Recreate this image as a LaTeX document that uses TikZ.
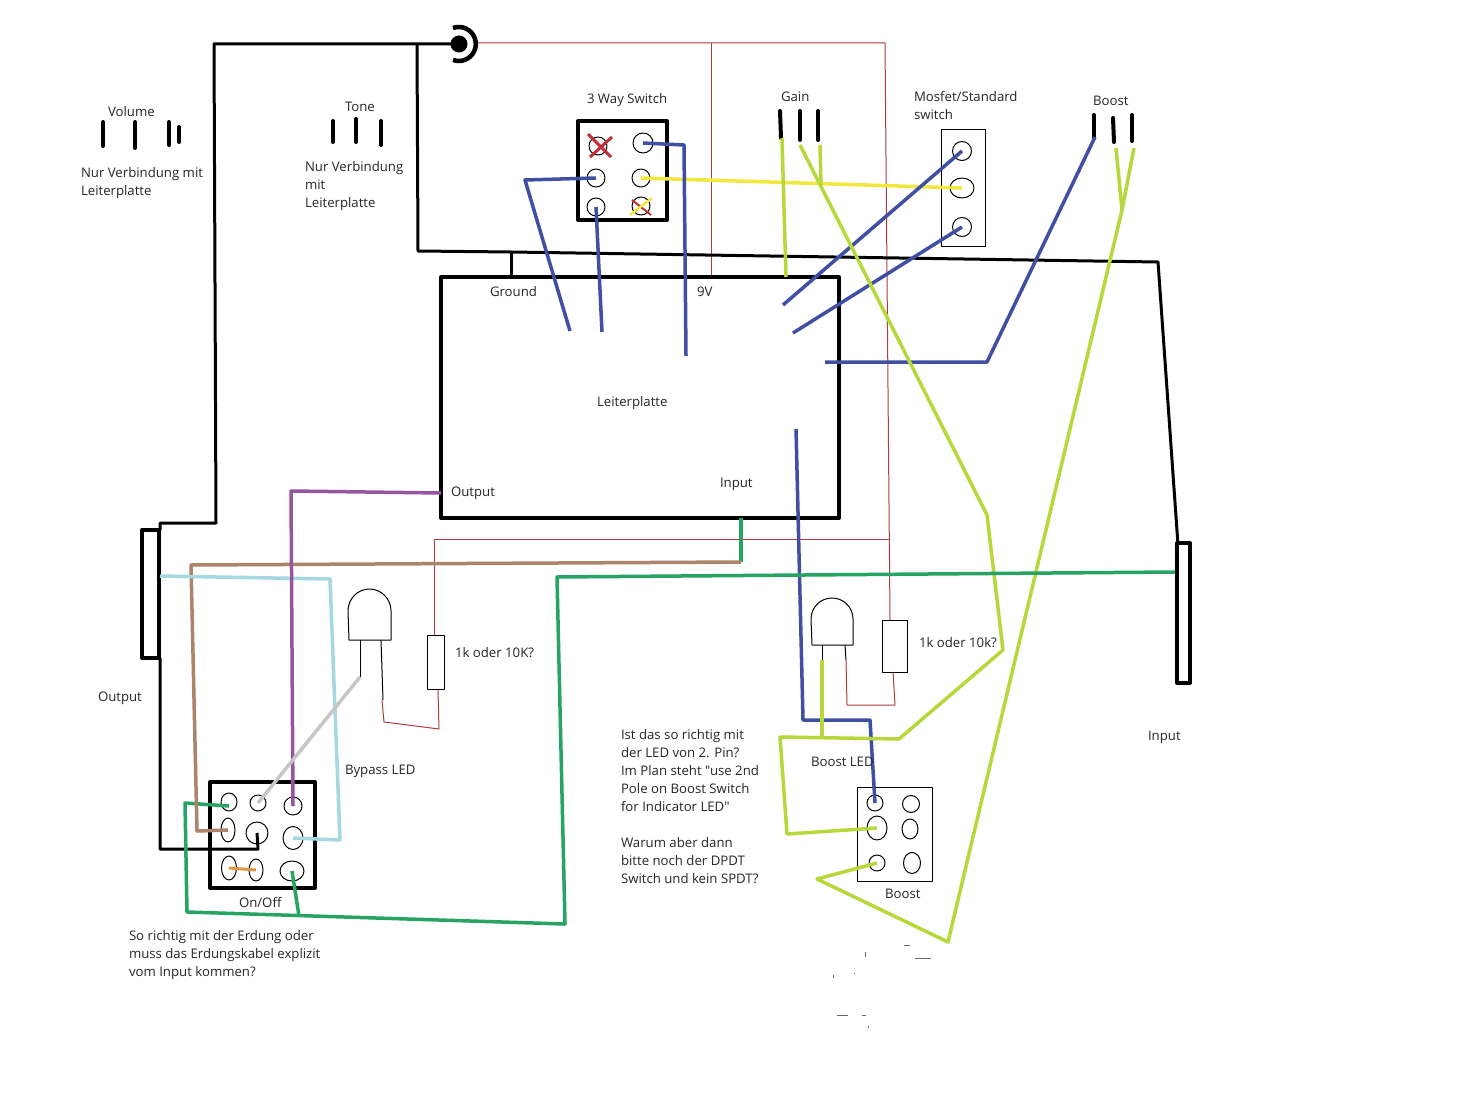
\documentclass[tikz,border=0pt]{standalone}
\usepackage{fontspec}
\newfontfamily\lblfont{Open Sans}
\usetikzlibrary{shapes.geometric}
\definecolor{wred}{HTML}{B03A40}
\definecolor{wblue}{HTML}{3F4FA3}
\definecolor{wlime}{HTML}{B7D83A}
\definecolor{wyellow}{HTML}{F2E83C}
\definecolor{wgreen}{HTML}{27A463}
\definecolor{wbrown}{HTML}{AD846A}
\definecolor{wsky}{HTML}{A6D8E2}
\definecolor{wpurple}{HTML}{95569E}
\definecolor{wgray}{HTML}{C6C6C6}
\definecolor{worange}{HTML}{DE9544}
\definecolor{wcross}{HTML}{BE2F36}
\begin{document}
\begin{tikzpicture}[x=1pt,y=-1pt,line join=round,
			lbl/.style={inner sep=0pt,outer sep=0pt,anchor=north west,align=left,
				font=\lblfont\fontsize{13.2}{18}\selectfont,text=black!85},
			pin/.style={ellipse,draw,line width=1pt,inner sep=0pt,minimum width=#1,minimum height=#1},
			pin/.default=18pt,
			blk/.style={line width=3pt,black},
			leg/.style={line width=4pt,black,line cap=round},
			box/.style={line width=4pt,black},
			thinbox/.style={line width=1pt,black},
			red wire/.style={line width=1pt,wred},
			blue wire/.style={line width=3.5pt,wblue},
			lime wire/.style={line width=3.5pt,wlime},
			green wire/.style={line width=3.5pt,wgreen},]
\useasboundingbox (0,0) rectangle (1469,1102);
\fill[white] (0,0) rectangle (1469,1102);
% thin red supply
\draw[red wire] (477,43) -- (885,43) -- (890,620);
\draw[red wire] (711.5,43) -- (711.5,277);
\draw[red wire] (890,539) -- (434.5,539) -- (434.5,635);
\draw[red wire] (438,689) -- (439,729) -- (384,722) -- (382,700);
\draw[red wire] (846,660) -- (847,705) -- (895,705) -- (893,672);
% parts
\draw[box] (441,277) rectangle (839,518);
\draw[box] (578,121) rectangle (667,220);
\draw[box] (210,782) rectangle (315,888);
\draw[box] (142,530) rectangle (159,658);
\draw[box] (1177,543) rectangle (1190,683);
\draw[thinbox] (941,130) rectangle (985,246);
\draw[thinbox] (857,787) rectangle (932,881);
\draw[thinbox] (427,635) rectangle (444,689);
\draw[thinbox] (882,620) rectangle (907,672);
% leds
\draw[thinbox] (349,640) -- (348,611) arc (180:360:21.5 and 22) -- (391,640) -- cycle;
\draw[thinbox] (360,640) -- (360,677);
\draw[thinbox] (381,640) -- (383,700);
\draw[thinbox] (812,645) -- (811,619) arc (180:360:21 and 21) -- (853,645) -- cycle;
\draw[thinbox] (822,645) -- (822,662);
\draw[thinbox] (845,645) -- (846,660);
% pots
\draw[leg] (103,122) -- (103,146);
\draw[leg] (135,122) -- (135,148);
\draw[leg] (169,122) -- (169,145);
\draw[leg] (179,127) -- (179,142);
\draw[leg] (333,121) -- (333,142);
\draw[leg] (356,119) -- (356,142);
\draw[leg] (381,121) -- (381,145);
\draw[leg] (780,111) -- (781,138);
\draw[leg] (800,111) -- (800,140);
\draw[leg] (818,111) -- (818,140);
\draw[leg] (1094,115) -- (1094,138);
\draw[leg] (1113,118) -- (1114,142);
\draw[leg] (1132,115) -- (1132,141);
% pins
\node[pin=18pt] (wayA) at (598,146) {};
\node[pin=20pt] (wayB) at (643,143) {};
\node[pin=18pt] (wayC) at (596,178) {};
\node[pin=18pt] (wayD) at (641,178) {};
\node[pin=18pt] (wayE) at (596,207) {};
\node[pin=18pt] (wayF) at (641,206) {};
\node[pin=19pt] (mosA) at (962,151) {};
\node[pin=24pt,minimum height=20pt] (mosB) at (962,188) {};
\node[pin=19pt] (mosC) at (962,227) {};
\node[pin=16pt] (booA) at (875,803) {};
\node[pin=17pt] (booB) at (911,804) {};
\node[pin=20pt,minimum height=24pt] (booC) at (877,828) {};
\node[pin=16pt,minimum height=20pt] (booD) at (910,829) {};
\node[pin=16pt] (booE) at (877,863) {};
\node[pin=17pt,minimum height=21pt] (booF) at (912,863) {};
\node[pin=16pt,minimum height=18pt] (onA) at (229,802) {};
\node[pin=16pt] (onB) at (258,803) {};
\node[pin=18pt] (onC) at (293,806) {};
\node[pin=14pt,minimum height=24pt] (onD) at (228,830) {};
\node[pin=22pt] (onE) at (257,833) {};
\node[pin=20pt,minimum height=23pt] (onF) at (293,838) {};
\node[pin=15pt,minimum height=24pt] (onG) at (229,868) {};
\node[pin=14pt,minimum height=22pt] (onH) at (256,870) {};
\node[pin=24pt,minimum height=20pt] (onI) at (292,871) {};
% jack
\node[circle,fill=black,minimum size=17pt,inner sep=0pt] (dc) at (459,44) {};
\draw[line width=4.5pt,black] (453,28) arc (-110:110:17);
% black wires
\draw[blk] (dc.center) -- (214,44) -- (216,523) -- (160,523) -- (160,530);
\draw[blk] (417,44) -- (418,251) -- (511,252) -- (1158,262) -- (1178,545);
\draw[blk] (511,252) -- (511,277);
\draw[blk] (160,658) -- (160,849) -- (258,849) -- (onE.center);
% coloured wires
\draw[wyellow,line width=3.5pt] (wayD.center) -- (mosB.center);
\draw[blue wire] (wayC.center) -- (525,180) -- (570,331);
\draw[blue wire] (wayE.center) -- (602,332);
\draw[blue wire] (wayB.center) -- (684,145) -- (686,356);
\draw[blue wire] (mosA.center) -- (783,305);
\draw[blue wire] (mosC.center) -- (793,333);
\draw[blue wire] (1095,137) -- (987,362) -- (825,362);
\draw[blue wire] (796,429) -- (803,720) -- (870,720) -- (booA.center);
\draw[lime wire] (782,138) -- (786,277);
\draw[lime wire] (820,145) -- (821,185);
\draw[lime wire] (800,145) -- (987,515) -- (1003,650) -- (899,739) -- (780,737) -- (787,834) -- (booC.center);
\draw[lime wire] (822,660) -- (822,739);
\draw[lime wire] (1116,148) -- (1122,210);
\draw[lime wire] (1134,148) -- (1122,210) -- (948,942) -- (817,879) -- (booE.center);
\draw[green wire] (741,518) -- (741,562);
\draw[green wire] (1175,572) -- (557,577) -- (565,924) -- (187,912) -- (185,803) -- ([yshift=-4pt]onA.center);
\draw[green wire] (onI.center) -- (299,916);
\draw[wbrown,line width=3.5pt] (741,562) -- (191,565) -- (197,831) -- (onD.center);
\draw[wsky,line width=3.5pt] (160,576) -- (330,579) -- (340,840) -- (onF.center);
\draw[wpurple,line width=3.5pt] (441,493) -- (291,491) -- (onC.center);
\draw[wgray,line width=3.5pt] (360,677) -- (onB.center);
\draw[worange,line width=3pt] (onG.center) -- (onH.center);
% crosses
\draw[wcross,line width=3pt] (588,134) -- (611,157);
\draw[wcross,line width=3pt] (612,137) -- (590,157);
\draw[wcross,line width=2pt] (632,200) -- (651,215);
\draw[wyellow,line width=2.5pt] (630,215) -- (652,198);
% specks
\draw[black!60,line width=0.6pt] (904,945) -- (910,945) (865,952) -- (865,957) (915,958) -- (931,958) (833,975) -- (833,978) (854,973) -- (855,973) (837,1015) -- (848,1015) (862,1015) -- (866,1015) (868,1026) -- (868,1028);
% labels
\node[lbl] (tVolume) at (108,106) {Volume};
\node[lbl] (tTone) at (345,102) {Tone};
\node[lbl] (tNurA) at (81,167) {Nur Verbindung mit\\Leiterplatte};
\node[lbl] (tNurB) at (305,161) {Nur Verbindung\\mit\\Leiterplatte};
\node[lbl] (tWay) at (587,93) {3 Way Switch};
\node[lbl] (tGain) at (781,92) {Gain};
\node[lbl] (tMos) at (914,91) {Mosfet/Standard\\switch};
\node[lbl] (tBoost) at (1093,96) {Boost};
\node[lbl] (tGround) at (490,286) {Ground};
\node[lbl] (tNine) at (697,287) {9V};
\node[lbl] (tBoard) at (597,396) {Leiterplatte};
\node[lbl] (tOutB) at (451,487) {Output};
\node[lbl] (tInB) at (720,478) {Input};
\node[lbl] (tOut) at (98,692) {Output};
\node[lbl] (tIn) at (1148,731) {Input};
\node[lbl] (tResA) at (455,647) {1k oder 10K?};
\node[lbl] (tResB) at (919,637) {1k oder 10k?};
\node[lbl] (tByp) at (345,765) {Bypass LED};
\node[lbl] (tBooLed) at (811,757) {Boost LED};
\node[lbl] (tBooSw) at (885,889) {Boost};
\node[lbl] (tOn) at (239,897) {On/Off};
\node[lbl] (tErd) at (129,930) {So richtig mit der Erdung oder\\muss das Erdungskabel explizit\\vom Input kommen?};
\node[lbl] (tAsk) at (621,729) {Ist das so richtig mit\\der LED von 2. Pin?\\Im Plan steht "use 2nd\\Pole on Boost Switch\\for Indicator LED"\\[18pt]Warum aber dann\\bitte noch der DPDT\\Switch und kein SPDT?};
\end{tikzpicture}
\end{document}
